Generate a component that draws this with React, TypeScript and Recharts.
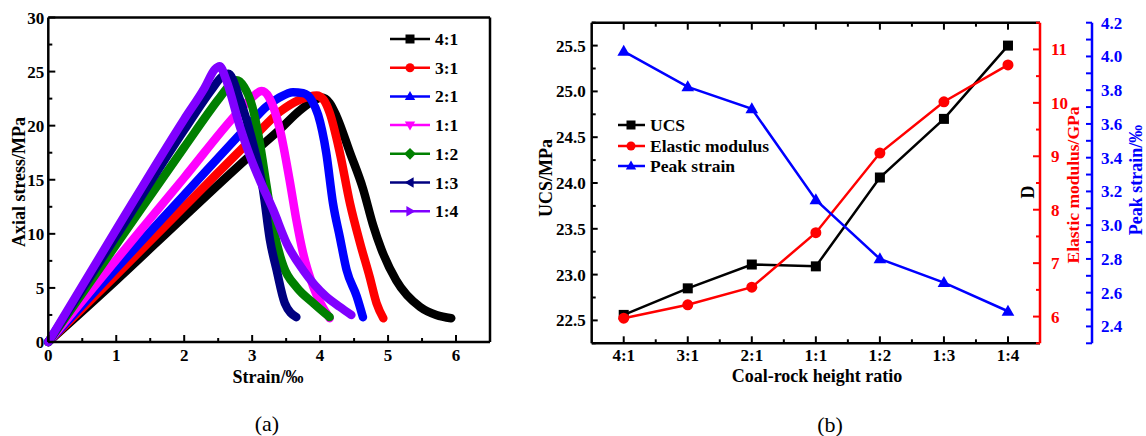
import React from 'react'
import { LineChart, Line, XAxis, YAxis, ReferenceLine } from 'recharts'

const SERIF = '"Liberation Serif", "Times New Roman", serif'

// (a) stress-strain curves, [strain ‰, stress MPa]
const curve41: [number, number][] = [
  [0, 0], [1, 5.7], [2, 11.6], [3, 17.4], [3.4, 19.6], [3.7, 21.4], [3.9, 22.3], [4.02, 22.6],
  [4.14, 22.1], [4.24, 20.9], [4.44, 17.5], [4.63, 14.2], [4.78, 10.8], [4.9, 8.6], [5.12, 5.7],
  [5.47, 3.25], [5.71, 2.5], [5.93, 2.2],
]
const curve31: [number, number][] = [
  [0, 0], [1, 6.2], [2, 12.5], [3, 18.8], [3.41, 21.3], [3.7, 22.4], [3.95, 22.8], [4.05, 22.4],
  [4.14, 21.2], [4.29, 17.5], [4.44, 12.8], [4.59, 9.1], [4.73, 6.0], [4.83, 3.6], [4.93, 2.2],
]
const curve21: [number, number][] = [
  [0, 0], [1, 6.8], [2, 13.6], [3, 20.4], [3.2, 21.7], [3.4, 22.6], [3.6, 23.1], [3.75, 23.0],
  [3.88, 22.3], [3.97, 21.0], [4.09, 17.5], [4.19, 12.8], [4.29, 9.7], [4.39, 6.65], [4.54, 4.2],
  [4.63, 2.3],
]
const curve11: [number, number][] = [
  [0, 0], [1, 7.6], [2, 15.2], [2.8, 21.3], [3.0, 22.6], [3.14, 23.2], [3.25, 22.6], [3.41, 19.6],
  [3.55, 15.0], [3.65, 11.3], [3.75, 8.2], [3.9, 5.1], [4.14, 2.2],
]
const curve12: [number, number][] = [
  [0, 0], [1, 9.0], [2, 18.0], [2.5, 22.4], [2.65, 23.6], [2.77, 24.2], [2.88, 23.6], [3.0, 21.8],
  [3.11, 18.5], [3.21, 14.5], [3.31, 10.6], [3.46, 7.0], [3.65, 5.1], [3.9, 3.6], [4.14, 2.3],
]
const curve13: [number, number][] = [
  [0, 0], [1, 9.8], [2, 19.6], [2.4, 23.3], [2.55, 24.5], [2.65, 24.8], [2.82, 22.4], [3.01, 18.4],
  [3.16, 14.1], [3.26, 9.5], [3.36, 6.65], [3.48, 3.6], [3.65, 2.3],
]
const curve14: [number, number][] = [
  [0, 0], [1, 10.4], [2, 20.6], [2.3, 23.5], [2.45, 25.2], [2.52, 25.5], [2.62, 24.2], [2.82, 19.9],
  [3.01, 16.5], [3.11, 15.0], [3.31, 12.2], [3.51, 9.1], [3.75, 6.65], [4.09, 4.2], [4.29, 3.25],
  [4.46, 2.5],
]
const curves = [curve41, curve31, curve21, curve11, curve12, curve13, curve14]

const ratioLabels = ['4:1', '3:1', '2:1', '1:1', '1:2', '1:3', '1:4']
const curveColors = ['#000000', '#ff0000', '#0000ff', '#ff00ff', '#008000', '#000080', '#8000ff']
const curveShapes = ['square', 'circle', 'up', 'down', 'diamond', 'left', 'right']

const strainTicks = [0, 0.5, 1, 1.5, 2, 2.5, 3, 3.5, 4, 4.5, 5, 5.5, 6]
const stressTicks = [0, 2.5, 5, 7.5, 10, 12.5, 15, 17.5, 20, 22.5, 25, 27.5, 30]

// (b) mechanical properties vs coal-rock height ratio
const ucs = [22.56, 22.85, 23.11, 23.09, 24.06, 24.7, 25.5]
const elasticModulus = [5.97, 6.22, 6.55, 7.57, 9.06, 10.02, 10.71]
const peakStrain = [4.03, 3.82, 3.69, 3.15, 2.8, 2.66, 2.49]

const ratioTicks = [1, 1.5, 2, 2.5, 3, 3.5, 4, 4.5, 5, 5.5, 6, 6.5, 7]
const ucsTicks = [22.25, 22.5, 22.75, 23, 23.25, 23.5, 23.75, 24, 24.25, 24.5, 24.75, 25, 25.25, 25.5, 25.75]
const emTicks = [5.5, 6, 6.5, 7, 7.5, 8, 8.5, 9, 9.5, 10, 10.5, 11, 11.5]
const psTicks = [2.3, 2.4, 2.5, 2.6, 2.7, 2.8, 2.9, 3.0, 3.1, 3.2, 3.3, 3.4, 3.5, 3.6, 3.7, 3.8, 3.9, 4.0, 4.1, 4.2]

const propData = ratioLabels.map((r, i) => ({
  pos: i + 1,
  ratio: r,
  ucs: ucs[i],
  em: elasticModulus[i],
  ps: peakStrain[i],
}))

const isStep = (v: number, step: number) => Math.abs(v / step - Math.round(v / step)) < 1e-6

function Marker({ shape, cx, cy, r, color }: { shape: string; cx: number; cy: number; r: number; color: string }) {
  switch (shape) {
    case 'square':
      return <rect x={cx - r} y={cy - r} width={2 * r} height={2 * r} fill={color} />
    case 'circle':
      return <circle cx={cx} cy={cy} r={r} fill={color} />
    case 'up':
      return <polygon points={`${cx},${cy - r * 1.2} ${cx - r * 1.15},${cy + r * 0.8} ${cx + r * 1.15},${cy + r * 0.8}`} fill={color} />
    case 'down':
      return <polygon points={`${cx},${cy + r * 1.2} ${cx - r * 1.15},${cy - r * 0.8} ${cx + r * 1.15},${cy - r * 0.8}`} fill={color} />
    case 'diamond':
      return <polygon points={`${cx},${cy - r * 1.3} ${cx + r * 1.3},${cy} ${cx},${cy + r * 1.3} ${cx - r * 1.3},${cy}`} fill={color} />
    case 'left':
      return <polygon points={`${cx - r * 1.2},${cy} ${cx + r * 0.8},${cy - r * 1.15} ${cx + r * 0.8},${cy + r * 1.15}`} fill={color} />
    default:
      return <polygon points={`${cx + r * 1.2},${cy} ${cx - r * 0.8},${cy - r * 1.15} ${cx - r * 0.8},${cy + r * 1.15}`} fill={color} />
  }
}

const tickText = { fontFamily: SERIF, fontWeight: 700, fontSize: 17 }

// ticks point into the plot; tickSize 0 puts x/y right on the axis line
const strainTick = (p: any) => {
  const v = p.payload.value
  const major = Number.isInteger(v)
  return (
    <g>
      <line x1={p.x} x2={p.x} y1={p.y} y2={p.y - (major ? 7 : 4)} stroke="#000" strokeWidth={2} />
      {major && <text x={p.x} y={p.y + 19} textAnchor="middle" fill="#000" style={tickText}>{v}</text>}
    </g>
  )
}

const stressTick = (p: any) => {
  const v = p.payload.value
  const major = isStep(v, 5)
  return (
    <g>
      <line x1={p.x} x2={p.x + (major ? 7 : 4)} y1={p.y} y2={p.y} stroke="#000" strokeWidth={2} />
      {major && <text x={p.x - 4} y={p.y + 6} textAnchor="end" fill="#000" style={tickText}>{v}</text>}
    </g>
  )
}

const ratioTick = (p: any) => {
  const v = p.payload.value
  const major = Number.isInteger(v)
  return (
    <g>
      <line x1={p.x} x2={p.x} y1={p.y} y2={p.y - (major ? 7 : 4)} stroke="#000" strokeWidth={2} />
      {major && <text x={p.x} y={p.y + 18} textAnchor="middle" fill="#000" style={tickText}>{ratioLabels[v - 1]}</text>}
    </g>
  )
}

const topRatioTick = (p: any) => {
  const major = Number.isInteger(p.payload.value)
  return <line x1={p.x} x2={p.x} y1={p.y} y2={p.y + (major ? 7 : 4)} stroke="#000" strokeWidth={2} />
}

const ucsTick = (p: any) => {
  const v = p.payload.value
  const major = isStep(v, 0.5)
  return (
    <g>
      <line x1={p.x} x2={p.x + (major ? 6 : 4)} y1={p.y} y2={p.y} stroke="#000" strokeWidth={2} />
      {major && <text x={p.x - 6} y={p.y + 6} textAnchor="end" fill="#000" style={tickText}>{v.toFixed(1)}</text>}
    </g>
  )
}

const emTick = (p: any) => {
  const v = p.payload.value
  const major = Number.isInteger(v)
  return (
    <g>
      <line x1={p.x - (major ? 7 : 4)} x2={p.x} y1={p.y} y2={p.y} stroke="#ff0000" strokeWidth={2} />
      {major && <text x={p.x + 11} y={p.y + 6} textAnchor="start" fill="#ff0000" style={tickText}>{v}</text>}
    </g>
  )
}

const psTick = (p: any) => {
  const v = p.payload.value
  const major = isStep(v, 0.2)
  return (
    <g>
      <line x1={p.x - 6} x2={p.x} y1={p.y} y2={p.y} stroke="#0000ff" strokeWidth={2} />
      {major && <text x={p.x + 9} y={p.y + 6} textAnchor="start" fill="#0000ff" style={tickText}>{v.toFixed(1)}</text>}
    </g>
  )
}

const dotFor = (shape: string, color: string, r: number) => (p: any) => (
  <g key={`${shape}-${p.index}`}>
    <Marker shape={shape} cx={p.cx} cy={p.cy} r={r} color={color} />
  </g>
)

const titleBold = { fontFamily: SERIF, fontWeight: 700, fontSize: 18 }
const legendText = { fontFamily: SERIF, fontWeight: 700, fontSize: 17.5 }

export default function App() {
  return (
    <div style={{ position: 'absolute', left: 0, top: 0, width: 1146, height: 436, background: '#fff' }}>
      <div style={{ position: 'absolute', left: 0, top: 0 }}>
        <LineChart width={500} height={436} margin={{ top: 17.5, right: 10, bottom: 64, left: 8.3 }}>
          <XAxis
            type="number"
            dataKey="x"
            domain={[0, 6.5]}
            ticks={strainTicks}
            interval={0}
            tickSize={0}
            tickMargin={0}
            height={30}
            axisLine={{ stroke: '#000', strokeWidth: 2.5 }}
            tick={strainTick}
          />
          <YAxis
            type="number"
            domain={[0, 30]}
            ticks={stressTicks}
            interval={0}
            tickSize={0}
            tickMargin={0}
            width={40}
            axisLine={{ stroke: '#000', strokeWidth: 2.5 }}
            tick={stressTick}
          />
          <ReferenceLine x={6.5} stroke="#000" strokeWidth={2.5} />
          <ReferenceLine y={30} stroke="#000" strokeWidth={2.5} />
          {curves.map((c, i) => (
            <Line
              key={ratioLabels[i]}
              data={c.map(([x, y]) => ({ x, y }))}
              dataKey="y"
              type="monotone"
              stroke={curveColors[i]}
              strokeWidth={8.5}
              strokeLinecap="round"
              strokeLinejoin="round"
              dot={false}
              activeDot={false}
              isAnimationActive={false}
            />
          ))}
        </LineChart>
      </div>

      <div style={{ position: 'absolute', left: 520, top: 0 }}>
        <LineChart width={626} height={436} data={propData} margin={{ top: 20.7, right: 0, bottom: 62.7, left: 11.7 }}>
          <XAxis
            type="number"
            dataKey="pos"
            domain={[0.5, 7.5]}
            ticks={ratioTicks}
            interval={0}
            tickSize={0}
            tickMargin={0}
            height={30}
            axisLine={{ stroke: '#000', strokeWidth: 2.5 }}
            tick={ratioTick}
          />
          <XAxis
            xAxisId="top"
            orientation="top"
            type="number"
            dataKey="pos"
            domain={[0.5, 7.5]}
            ticks={ratioTicks}
            interval={0}
            tickSize={0}
            tickMargin={0}
            height={2}
            axisLine={{ stroke: '#000', strokeWidth: 2.5 }}
            tick={topRatioTick}
          />
          <YAxis
            yAxisId="ucs"
            type="number"
            domain={[22.25, 25.75]}
            ticks={ucsTicks}
            interval={0}
            tickSize={0}
            tickMargin={0}
            width={60}
            axisLine={{ stroke: '#000', strokeWidth: 2.5 }}
            tick={ucsTick}
          />
          <YAxis
            yAxisId="em"
            orientation="right"
            type="number"
            domain={[5.5, 11.5]}
            ticks={emTicks}
            interval={0}
            tickSize={0}
            tickMargin={0}
            width={52}
            axisLine={{ stroke: '#ff0000', strokeWidth: 2.5 }}
            tick={emTick}
          />
          <YAxis
            yAxisId="ps"
            orientation="right"
            type="number"
            domain={[2.3, 4.2]}
            ticks={psTicks}
            interval={0}
            tickSize={0}
            tickMargin={0}
            width={54}
            axisLine={{ stroke: '#0000ff', strokeWidth: 2.5 }}
            tick={psTick}
          />
          <Line yAxisId="ucs" dataKey="ucs" type="linear" stroke="#000" strokeWidth={2.5}
            dot={dotFor('square', '#000', 5)} activeDot={false} isAnimationActive={false} />
          <Line yAxisId="em" dataKey="em" type="linear" stroke="#ff0000" strokeWidth={2.5}
            dot={dotFor('circle', '#ff0000', 5.5)} activeDot={false} isAnimationActive={false} />
          <Line yAxisId="ps" dataKey="ps" type="linear" stroke="#0000ff" strokeWidth={2.5}
            dot={dotFor('up', '#0000ff', 5.5)} activeDot={false} isAnimationActive={false} />
        </LineChart>
      </div>

      <svg width={1146} height={436} style={{ position: 'absolute', left: 0, top: 0, pointerEvents: 'none' }}>
        {/* legend (a) */}
        {ratioLabels.map((r, i) => {
          const y = 39 + i * 28.7
          return (
            <g key={r}>
              <line x1={390} x2={430} y1={y} y2={y} stroke={curveColors[i]} strokeWidth={2.5} />
              <Marker shape={curveShapes[i]} cx={410} cy={y} r={4.5} color={curveColors[i]} />
              <text x={435} y={y + 6} fill="#000" style={legendText}>{r}</text>
            </g>
          )
        })}
        {/* legend (b) */}
        {[
          { name: 'UCS', color: '#000', shape: 'square', y: 125 },
          { name: 'Elastic modulus', color: '#ff0000', shape: 'circle', y: 146 },
          { name: 'Peak strain', color: '#0000ff', shape: 'up', y: 166 },
        ].map((l) => (
          <g key={l.name}>
            <line x1={618} x2={645} y1={l.y} y2={l.y} stroke={l.color} strokeWidth={2.5} />
            <Marker shape={l.shape} cx={631} cy={l.y} r={4.5} color={l.color} />
            <text x={650} y={l.y + 6} fill="#000" style={legendText}>{l.name}</text>
          </g>
        ))}

        <text x={18.5} y={182} transform="rotate(-90 18.5 182)" textAnchor="middle" dominantBaseline="central" style={titleBold}>Axial stress/MPa</text>
        <text x={268} y={377} textAnchor="middle" dominantBaseline="central" style={titleBold}>Strain/‰</text>
        <text x={267} y={423} textAnchor="middle" dominantBaseline="central" style={{ fontFamily: SERIF, fontSize: 22 }}>(a)</text>

        <text x={546} y={178} transform="rotate(-90 546 178)" textAnchor="middle" dominantBaseline="central" style={titleBold}>UCS/MPa</text>
        <text x={817} y={376} textAnchor="middle" dominantBaseline="central" style={titleBold}>Coal-rock height ratio</text>
        <text x={830} y={424} textAnchor="middle" dominantBaseline="central" style={{ fontFamily: SERIF, fontSize: 22 }}>(b)</text>
        <text x={1028} y={192} transform="rotate(-90 1028 192)" textAnchor="middle" dominantBaseline="central" style={titleBold}>D</text>
        <text x={1073} y={185} transform="rotate(-90 1073 185)" textAnchor="middle" dominantBaseline="central" fill="#ff0000" style={{ ...titleBold, fontSize: 17.5 }}>Elastic modulus/GPa</text>
        <text x={1136} y={180} transform="rotate(-90 1136 180)" textAnchor="middle" dominantBaseline="central" fill="#0000ff" style={titleBold}>Peak strain/‰</text>
      </svg>
    </div>
  )
}
